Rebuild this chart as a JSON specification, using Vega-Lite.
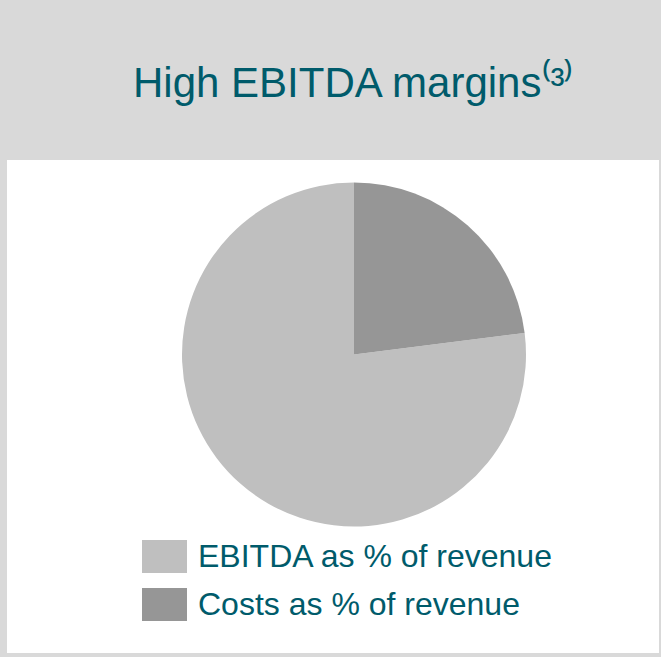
{
  "$schema": "https://vega.github.io/schema/vega-lite/v6.json",
  "width": 652,
  "height": 493,
  "autosize": {"type": "none"},
  "padding": {"left": 7, "top": 160, "right": 2, "bottom": 4},
  "background": "#d9d9d9",
  "view": {"fill": "#ffffff", "stroke": null},
  "title": {
    "text": "High EBITDA margins⁽³⁾",
    "anchor": "start",
    "frame": "group",
    "dx": 126,
    "offset": 21,
    "baseline": "alphabetic",
    "fontSize": 42,
    "font": "Arial",
    "fontWeight": "normal",
    "color": "#005b6b"
  },
  "data": {
    "values": [
      {"category": "EBITDA as % of revenue", "value": 77},
      {"category": "Costs as % of revenue", "value": 23}
    ]
  },
  "mark": {"type": "arc", "radius": 172, "xOffset": 21, "yOffset": -52},
  "encoding": {
    "theta": {"field": "value", "type": "quantitative", "stack": true},
    "order": {"field": "value", "sort": "ascending"},
    "color": {
      "field": "category",
      "type": "nominal",
      "scale": {
        "domain": ["EBITDA as % of revenue", "Costs as % of revenue"],
        "range": ["#bfbfbf", "#969696"]
      },
      "legend": {
        "title": null,
        "orient": "none",
        "legendX": 135,
        "legendY": 374,
        "symbolType": "M-1,-0.733H1V0.733H-1Z",
        "symbolSize": 2025,
        "symbolStrokeWidth": 0,
        "symbolOpacity": 1,
        "labelFontSize": 32,
        "labelFont": "Arial",
        "labelColor": "#005b6b",
        "labelOffset": 11,
        "rowPadding": 9,
        "labelLimit": 600,
        "padding": 0
      }
    }
  }
}
